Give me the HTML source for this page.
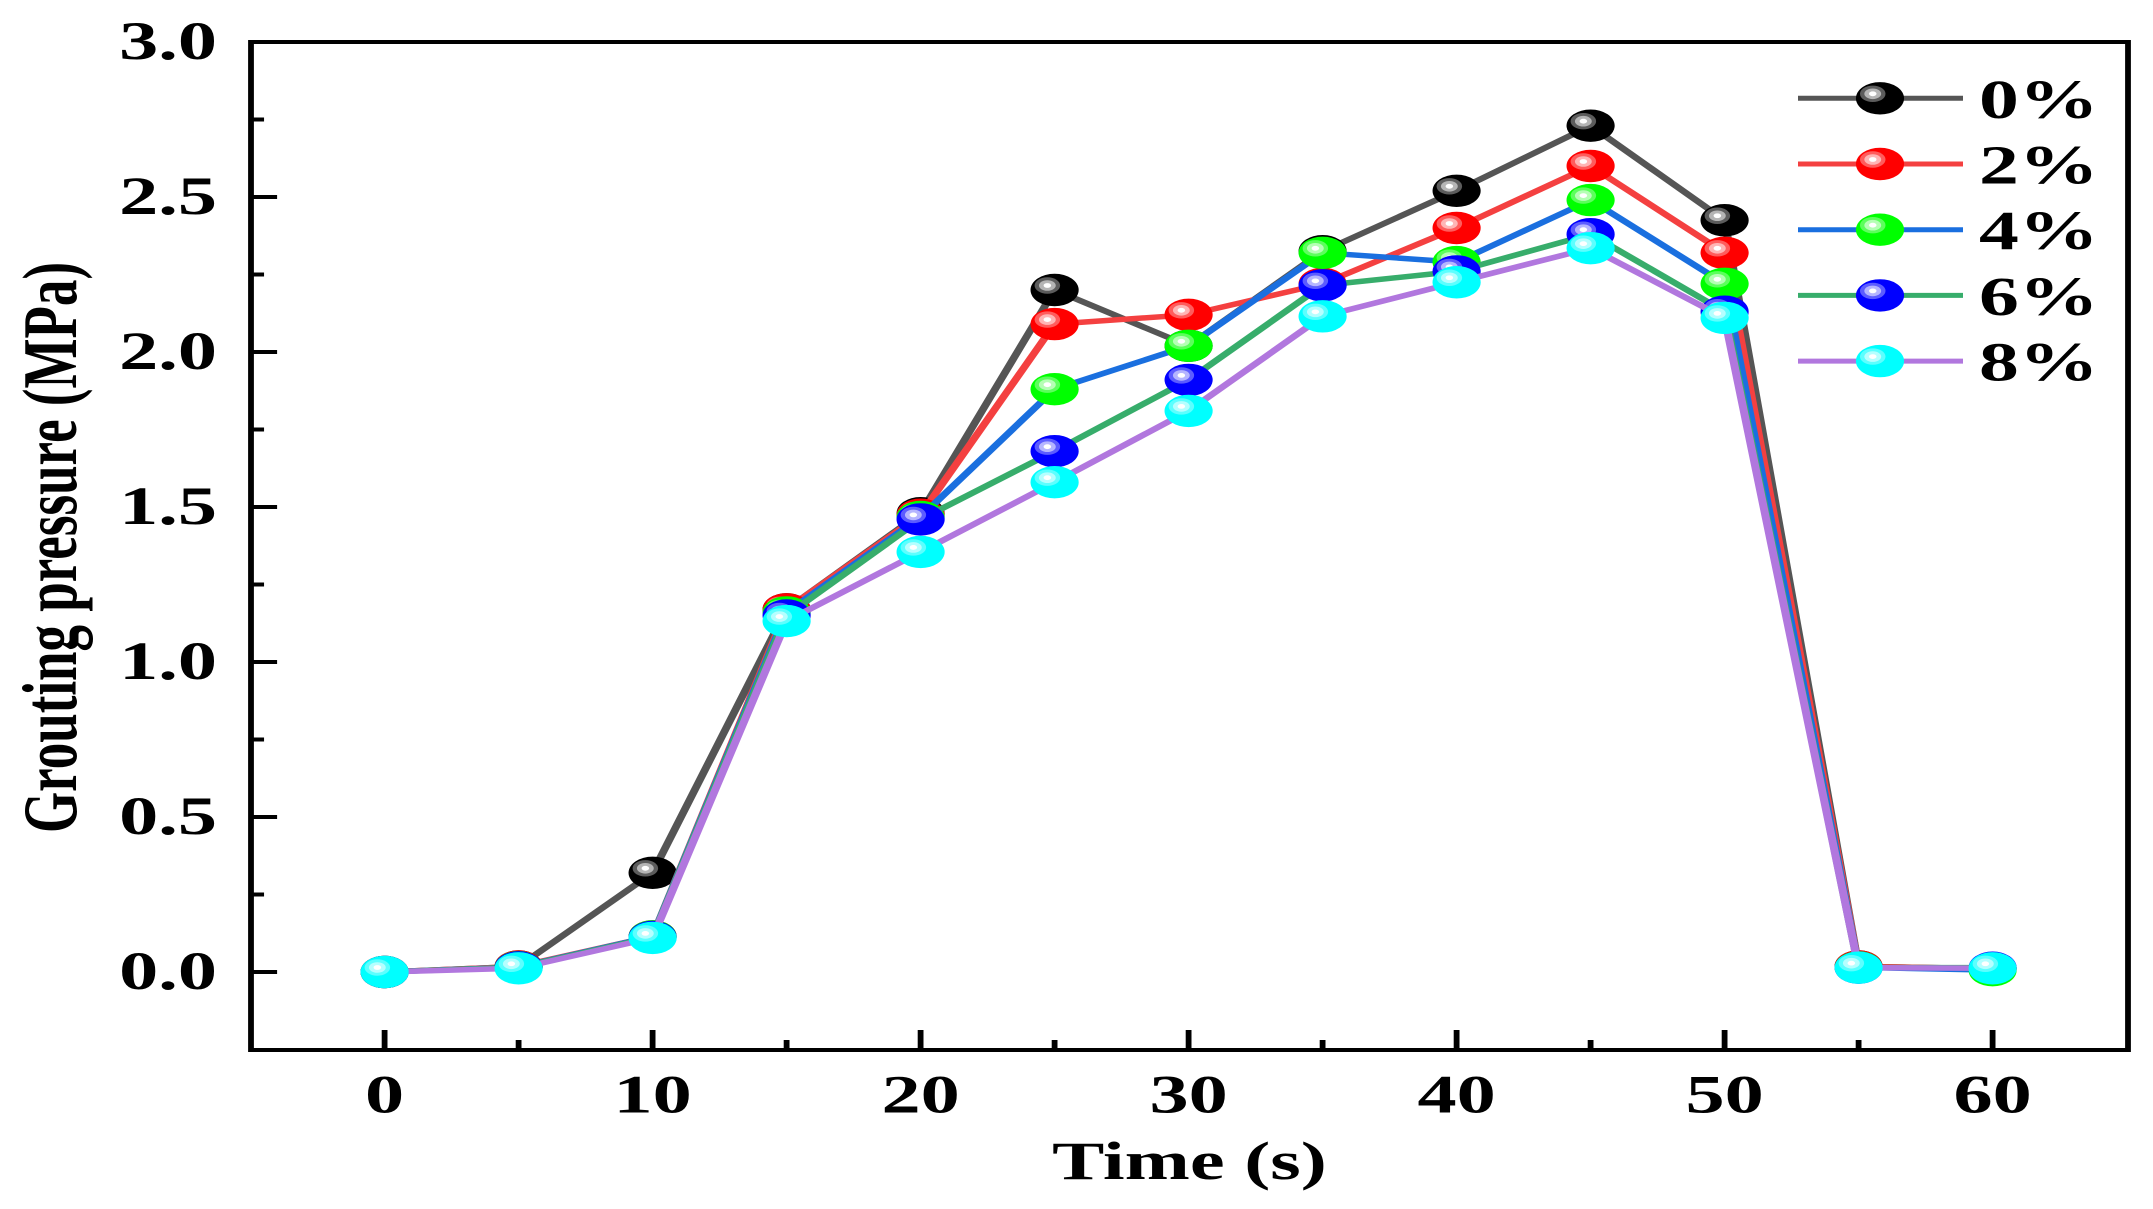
<!DOCTYPE html>
<html lang="en">
<head>
<meta charset="utf-8">
<title>Grouting pressure vs time</title>
<style>
html,body{margin:0;padding:0;background:#fff;}
svg{display:block;}
text{font-family:"Liberation Serif",serif;font-weight:bold;font-size:54px;fill:#000;}
#y-title{font-size:53px;}
#legend text{font-size:55px;}
</style>
</head>
<body>
<svg id="chart" width="2153" height="1209" viewBox="0 0 1484.83 1209" preserveAspectRatio="none" xmlns="http://www.w3.org/2000/svg">
  <rect x="0" y="0" width="1484.83" height="1209" fill="#fff"/>
  <g id="x-ticks"></g>
  <g id="y-ticks"></g>
  <g id="series"></g>
  <rect id="frame" fill="none" stroke="#000" stroke-width="4"/>
  <g id="legend"></g>
  <text id="x-title" text-anchor="middle">Time (s)</text>
  <text id="y-title" text-anchor="middle">Grouting pressure (MPa)</text>
</svg>
<script>
const times = [0, 5, 10, 15, 20, 25, 30, 35, 40, 45, 50, 55, 60];
const labels = ['0%', '2%', '4%', '6%', '8%'];
const series0 = [0, 0.018, 0.32, 1.17, 1.48, 2.20, 2.02, 2.325, 2.52, 2.73, 2.425, 0.018, 0.011];
const series2 = [0, 0.018, 0.115, 1.17, 1.475, 2.09, 2.12, 2.22, 2.40, 2.60, 2.32, 0.018, 0.011];
const series4 = [0, 0.016, 0.115, 1.16, 1.468, 1.88, 2.02, 2.32, 2.29, 2.49, 2.22, 0.015, 0.006];
const series6 = [0, 0.015, 0.113, 1.15, 1.46, 1.68, 1.91, 2.215, 2.26, 2.38, 2.13, 0.014, 0.014];
const series8 = [0, 0.012, 0.11, 1.132, 1.355, 1.58, 1.81, 2.115, 2.225, 2.335, 2.11, 0.014, 0.012];
const xTickValues = [0, 5, 10, 15, 20, 25, 30, 35, 40, 45, 50, 55, 60];
const xTickLabels = ['0', '', '10', '', '20', '', '30', '', '40', '', '50', '', '60'];
const yTickValues = [0, 0.25, 0.5, 0.75, 1, 1.25, 1.5, 1.75, 2, 2.25, 2.5, 2.75, 3];
const yTickLabels = ['0.0', '', '0.5', '', '1.0', '', '1.5', '', '2.0', '', '2.5', '', '3.0'];
const lineColors = ['#555555', '#f44040', '#1a6fdf', '#37ad6b', '#b177de'];
const markerColors = ['#000000', '#ff0000', '#00ff00', '#0000ff', '#00ffff'];

const allSeries = [series0, series2, series4, series6, series8];
const S = 2153 / 1484.83;
const NS = 'http://www.w3.org/2000/svg';
function sx(px) { return px / S; }
function xAxis(t) { return sx(384.6 + 26.8 * t); }
function yAxis(v) { return 972 - 310 * v; }
function make(tag, attrs, parent) {
  const el = document.createElementNS(NS, tag);
  for (const k in attrs) { el.setAttribute(k, attrs[k]); }
  parent.appendChild(el);
  return el;
}
function drawBall(parent, cx, cy, color) {
  const ball = make('g', {}, parent);
  
  
  make('ellipse', { cx: cx, cy: cy, rx: 16.6, ry: 16.2, fill: color }, ball);
  make('ellipse', { cx: cx - 5, cy: cy - 4.5, rx: 8.8, ry: 8.2, fill: '#fff', 'fill-opacity': 0.36 }, ball);
  make('ellipse', { cx: cx - 5, cy: cy - 4.5, rx: 5.8, ry: 5.3, fill: '#fff', 'fill-opacity': 0.55 }, ball);
  make('ellipse', { cx: cx - 5, cy: cy - 4.5, rx: 2.6, ry: 2.4, fill: '#fff' }, ball);
}

const L = sx(251), R = sx(2128), T = 42, B = 1050;
const frame = document.getElementById('frame');
frame.setAttribute('x', L);
frame.setAttribute('y', T);
frame.setAttribute('width', R - L);
frame.setAttribute('height', B - T);

const xTicksG = document.getElementById('x-ticks');
xTickValues.forEach(function (v, i) {
  const major = xTickLabels[i] !== '';
  const tick = make('line', { x1: xAxis(v), x2: xAxis(v), y1: B, y2: B - (major ? 20 : 10), stroke: '#000', 'stroke-width': 4 }, xTicksG);
  
  
  if (major) {
    const label = make('text', { x: xAxis(v), y: 1112.5, 'text-anchor': 'middle' }, xTicksG);
    
    
    label.textContent = xTickLabels[i];
  }
});

const yTicksG = document.getElementById('y-ticks');
yTickValues.forEach(function (v, i) {
  const major = yTickLabels[i] !== '';
  const tick = make('line', { x1: L, x2: L + (major ? 18 : 9), y1: yAxis(v), y2: yAxis(v), stroke: '#000', 'stroke-width': 4 }, yTicksG);
  
  
  if (major) {
    const label = make('text', { x: sx(217), y: yAxis(v) + 17, 'text-anchor': 'end' }, yTicksG);
    
    
    label.textContent = yTickLabels[i];
  }
});

const seriesG = document.getElementById('series');
allSeries.forEach(function (values, i) {
  const g = make('g', {}, seriesG);
  
  
  const pts = values.map(function (v, j) { return xAxis(times[j]) + ',' + yAxis(v); }).join(' ');
  const line = make('polyline', { points: pts, fill: 'none', stroke: lineColors[i], 'stroke-width': 5.5, 'stroke-linejoin': 'round' }, g);
  
  
  values.forEach(function (v, j) {
    drawBall(g, xAxis(times[j]), yAxis(v), markerColors[i]);
  });
});

const legendG = document.getElementById('legend');
labels.forEach(function (name, i) {
  const cy = 98.3 + 65.7 * i;
  const entry = make('g', {}, legendG);
  
  
  const sw = make('line', { x1: sx(1798), x2: sx(1963), y1: cy, y2: cy, stroke: lineColors[i], 'stroke-width': 5 }, entry);
  
  
  drawBall(entry, sx(1880), cy, markerColors[i]);
  const txt = make('text', { x: sx(1979), y: cy + 19.5 }, entry);
  
  
  txt.textContent = name;
});

const xTitle = document.getElementById('x-title');
xTitle.setAttribute('x', sx(1189.5));
xTitle.setAttribute('y', 1179);
const yTitle = document.getElementById('y-title');
yTitle.setAttribute('transform', 'translate(' + sx(76) + ',547.5) rotate(-90)');
</script>
</body>
</html>
